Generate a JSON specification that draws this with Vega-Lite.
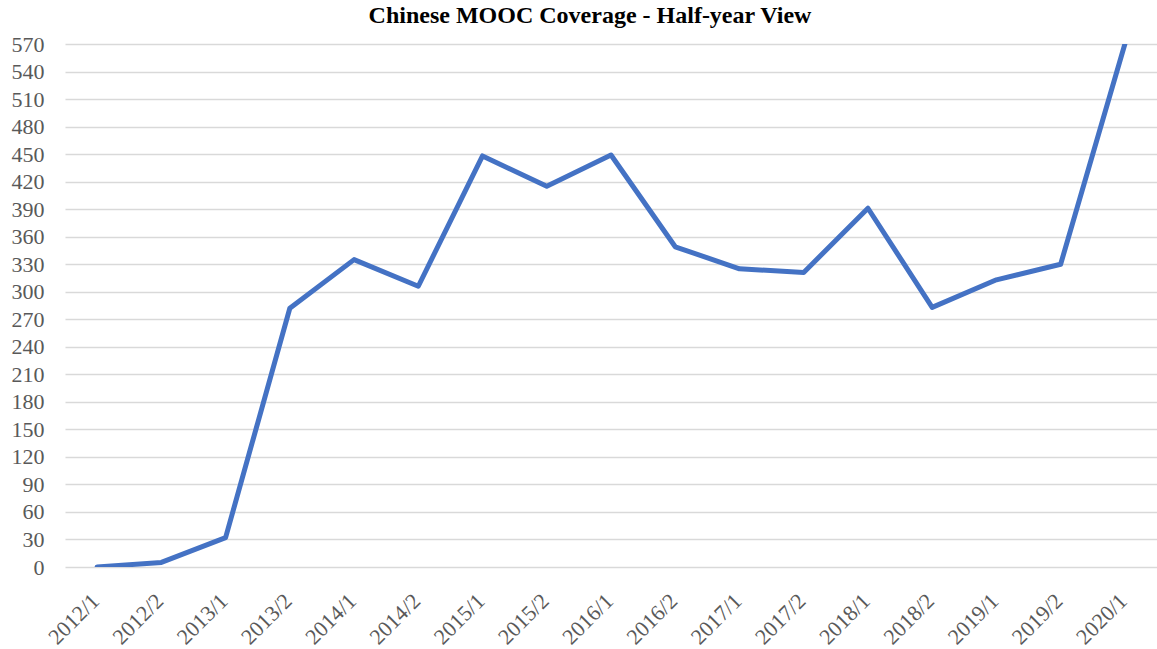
{
  "$schema": "https://vega.github.io/schema/vega-lite/v6.json",
  "width": 1092,
  "height": 523,
  "autosize": "none",
  "padding": {"left": 65, "top": 44, "right": 0, "bottom": 82},
  "background": "white",
  "title": {
    "text": "Chinese MOOC Coverage - Half-year View",
    "font": "Liberation Serif",
    "fontSize": 24,
    "fontWeight": "bold",
    "color": "#000000",
    "anchor": "middle",
    "baseline": "alphabetic",
    "offset": -14,
    "dx": -21
  },
  "config": {
    "view": {"stroke": null},
    "axis": {
      "labelFont": "Liberation Serif",
      "labelFontSize": 22,
      "labelColor": "#595959",
      "ticks": false,
      "domain": false,
      "title": null
    }
  },
  "data": {
    "values": [
      {"period": "2012/1", "value": 0},
      {"period": "2012/2", "value": 5},
      {"period": "2013/1", "value": 32},
      {"period": "2013/2", "value": 282},
      {"period": "2014/1", "value": 335},
      {"period": "2014/2", "value": 306},
      {"period": "2015/1", "value": 448},
      {"period": "2015/2", "value": 415},
      {"period": "2016/1", "value": 449},
      {"period": "2016/2", "value": 349},
      {"period": "2017/1", "value": 325},
      {"period": "2017/2", "value": 321},
      {"period": "2018/1", "value": 391},
      {"period": "2018/2", "value": 283},
      {"period": "2019/1", "value": 313},
      {"period": "2019/2", "value": 330},
      {"period": "2020/1", "value": 570}
    ]
  },
  "mark": {"type": "line", "color": "#4472C4", "strokeWidth": 5, "strokeCap": "round", "strokeJoin": "round", "clip": true},
  "encoding": {
    "x": {
      "field": "period",
      "type": "ordinal",
      "sort": null,
      "scale": {"type": "point", "padding": 0.5},
      "axis": {
        "labelAngle": -45,
        "labelAlign": "right",
        "labelBaseline": "middle",
        "labelPadding": 30,
        "labelOffset": -2,
        "grid": false
      }
    },
    "y": {
      "field": "value",
      "type": "quantitative",
      "scale": {"domain": [0, 570], "nice": false, "zero": true},
      "axis": {
        "values": [0, 30, 60, 90, 120, 150, 180, 210, 240, 270, 300, 330, 360, 390, 420, 450, 480, 510, 540, 570],
        "grid": true,
        "gridColor": "#d9d9d9",
        "gridWidth": 1.5,
        "labelPadding": 21,
        "labelBaseline": "middle"
      }
    }
  }
}
